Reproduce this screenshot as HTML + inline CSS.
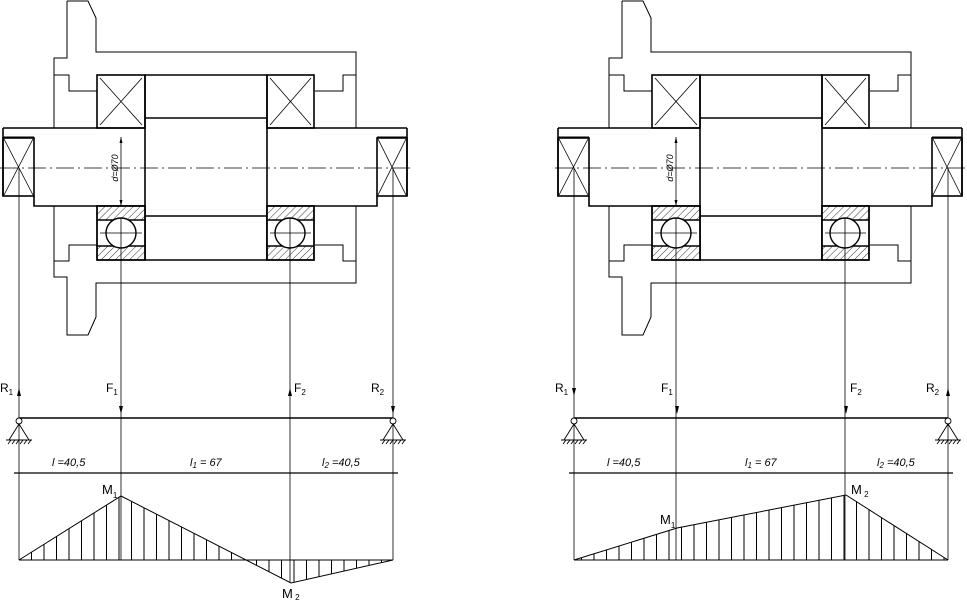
<!DOCTYPE html>
<html><head><meta charset="utf-8"><style>
html,body{margin:0;padding:0;background:#fff;}
svg{display:block;}
text{font-family:"Liberation Sans",sans-serif;fill:#000;}
</style></head><body>
<svg width="967" height="603" viewBox="0 0 967 603" xmlns="http://www.w3.org/2000/svg">
<defs>
<pattern id="hat" patternUnits="userSpaceOnUse" width="5" height="5" patternTransform="rotate(45)">
<line x1="0" y1="0" x2="0" y2="5" stroke="#000" stroke-width="0.8"/>
</pattern>
<pattern id="vh" patternUnits="userSpaceOnUse" width="12.5" height="10" x="6">
<line x1="0.5" y1="0" x2="0.5" y2="10" stroke="#000" stroke-width="1"/>
</pattern>
<g id="asm" fill="none" stroke="#000">
<g stroke-width="1">
<polyline points="67,1 88,1 96,18 96,52 356,52 356,128"/>
<polyline points="67,1 67,58 54,58 54,128"/>
<polyline points="54,75 69,75 69,91 97,91"/>
<polyline points="315,91 343,91 343,75 356,75"/>
<polyline points="54,206 54,277 67,277 67,335 88,335 96,317 96,283 356,283 356,206"/>
<polyline points="54,261 69,261 69,245 97,245"/>
<polyline points="315,245 343,245 343,261 356,261"/>
</g>
<g stroke-width="1.6">
<rect x="97" y="75" width="48" height="53"/>
<rect x="267" y="75" width="47" height="53"/>
<line x1="145" y1="75" x2="267" y2="75"/>
<line x1="145" y1="118" x2="267" y2="118"/>
<line x1="145" y1="216" x2="267" y2="216"/>
<line x1="145" y1="260" x2="267" y2="260"/>
<line x1="145" y1="75" x2="145" y2="260"/>
<line x1="267" y1="75" x2="267" y2="260"/>
<line x1="3" y1="128" x2="145" y2="128"/>
<line x1="267" y1="128" x2="407" y2="128"/>
<line x1="3" y1="128" x2="3" y2="196"/>
<line x1="407" y1="128" x2="407" y2="196"/>
<line x1="3" y1="137" x2="34" y2="137" stroke-width="1"/>
<line x1="377" y1="137" x2="407" y2="137" stroke-width="1"/>
<rect x="3" y="138" width="31" height="58"/>
<rect x="377" y="138" width="30" height="58"/>
<polyline points="34,196 34,206 145,206"/>
<polyline points="267,206 377,206 377,196"/>
<rect x="97" y="206" width="48" height="54" fill="#fff"/>
<rect x="267" y="206" width="47" height="54" fill="#fff"/>
</g>
<rect x="97" y="206" width="48" height="14" fill="url(#hat)" stroke="none"/>
<rect x="97" y="246" width="48" height="14" fill="url(#hat)" stroke="none"/>
<rect x="267" y="206" width="47" height="14" fill="url(#hat)" stroke="none"/>
<rect x="267" y="246" width="47" height="14" fill="url(#hat)" stroke="none"/>
<g stroke-width="1.4">
<rect x="97" y="206" width="48" height="54"/>
<rect x="267" y="206" width="47" height="54"/>
<line x1="97" y1="220" x2="145" y2="220"/><line x1="97" y1="246" x2="145" y2="246"/>
<line x1="267" y1="220" x2="314" y2="220"/><line x1="267" y1="246" x2="314" y2="246"/>
<circle cx="121" cy="233" r="15" fill="#fff"/>
<circle cx="290" cy="233" r="15" fill="#fff"/>
</g>
<g stroke-width="0.8">
<line x1="100" y1="233" x2="142" y2="233"/><line x1="270" y1="233" x2="311" y2="233"/>
<line x1="100" y1="78" x2="142" y2="125"/><line x1="142" y1="78" x2="100" y2="125"/>
<line x1="270" y1="78" x2="311" y2="125"/><line x1="311" y1="78" x2="270" y2="125"/>
<line x1="4" y1="139" x2="33" y2="195"/><line x1="33" y1="139" x2="4" y2="195"/>
<line x1="378" y1="139" x2="406" y2="195"/><line x1="406" y1="139" x2="378" y2="195"/>
<line x1="0" y1="168" x2="413" y2="168" stroke-dasharray="18,4,2,4"/>
<line x1="121" y1="137" x2="121" y2="206"/>
<line x1="121" y1="218" x2="121" y2="560"/>
<line x1="290" y1="218" x2="290" y2="560"/>
<line x1="19" y1="168" x2="19" y2="560"/>
<line x1="393" y1="168" x2="393" y2="560"/>
</g>
<path d="M121,137 l-1.5,6 h3z M121,206 l-1.5,-6 h3z" fill="#000" stroke="none"/>
<text x="0" y="0" font-size="9" font-style="italic" transform="translate(118,168) rotate(-90)" text-anchor="middle" stroke="none">d=Ø70</text>
<line x1="19" y1="418" x2="393" y2="418" stroke-width="1.5"/>
<line x1="14" y1="473" x2="398" y2="473" stroke-width="1.2"/>
<g stroke-width="0.9">
<circle cx="19" cy="421" r="3" fill="#fff"/>
<polyline points="9,440 19,424 29,440"/>
<line x1="6" y1="440" x2="32" y2="440"/>
<path d="M8,444 l3,-4 M12,444 l3,-4 M16,444 l3,-4 M20,444 l3,-4 M24,444 l3,-4 M28,444 l3,-4"/>
<circle cx="393" cy="421" r="3" fill="#fff"/>
<polyline points="383,440 393,424 403,440"/>
<line x1="380" y1="440" x2="406" y2="440"/>
<path d="M382,444 l3,-4 M386,444 l3,-4 M390,444 l3,-4 M394,444 l3,-4 M398,444 l3,-4 M402,444 l3,-4"/>
</g>
<g stroke="none" font-size="11" font-style="italic">
<text x="52" y="466">l =40,5</text>
<text x="190" y="466">l<tspan font-size="8" dy="2">1</tspan><tspan dy="-2"> = 67</tspan></text>
<text x="322" y="466">l<tspan font-size="8" dy="2">2</tspan><tspan dy="-2"> =40,5</tspan></text>
</g>
<g stroke="none" font-size="12">
<text x="0" y="392">R<tspan font-size="8" dy="3">1</tspan></text>
<text x="106" y="392">F<tspan font-size="8" dy="3">1</tspan></text>
<text x="371" y="392">R<tspan font-size="8" dy="3">2</tspan></text>
</g>
</g>
</defs>

<use href="#asm"/>
<g stroke="none" font-size="12">
<text x="294" y="392">F<tspan font-size="8" dy="3">2</tspan></text>
</g>
<path d="M19,388 l-2,8 h4z M121,414 l-2,-8 h4z M290,388 l-2,8 h4z M393,414 l-2,-8 h4z" fill="#000"/>
<line x1="290" y1="560" x2="290" y2="583" stroke="#000" stroke-width="0.8"/>
<polygon points="19,560 121,496 291,583 393,560" fill="url(#vh)" stroke="none"/>
<polyline points="19,560 121,496 291,583 393,560" fill="none" stroke="#000" stroke-width="1"/>
<line x1="19" y1="560" x2="393" y2="560" stroke="#000" stroke-width="1"/>
<text x="102" y="494" font-size="13">M<tspan font-size="8" dy="4">1</tspan></text>
<text x="282" y="598" font-size="13">M<tspan font-size="8" dy="2"> 2</tspan></text>

<use href="#asm" transform="translate(555,0)"/>
<g stroke="none" font-size="12">
<text x="850" y="392">F<tspan font-size="8" dy="3">2</tspan></text>
</g>
<path d="M574,396 l-2,-8 h4z M677,414 l-2,-8 h4z M846,414 l-2,-8 h4z M948,388 l-2,8 h4z" fill="#000"/>
<polygon points="574,560 677,528 846,495 948,560" fill="url(#vh)" stroke="none"/>
<polyline points="574,560 677,528 846,495 948,560" fill="none" stroke="#000" stroke-width="1"/>
<line x1="574" y1="560" x2="948" y2="560" stroke="#000" stroke-width="1"/>
<text x="660" y="524" font-size="13">M<tspan font-size="8" dy="4">1</tspan></text>
<text x="851" y="494" font-size="13">M<tspan font-size="8" dy="3"> 2</tspan></text>
</svg>
</body></html>
